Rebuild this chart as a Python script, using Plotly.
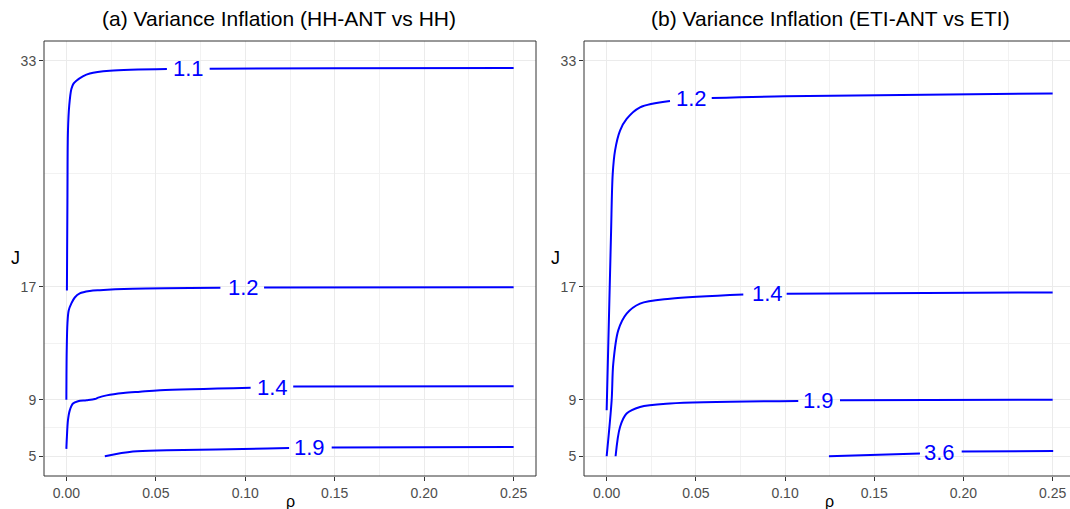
import plotly.graph_objects as go

# ---------------- data ----------------
# Panel (a): Variance Inflation (HH-ANT vs HH)
a_11_rho = [0.0003, 0.0006, 0.0009, 0.0016, 0.0028, 0.0040, 0.0056, 0.0092, 0.0131, 0.0243, 0.0562, None, 0.0801, 0.15, 0.25]
a_11_J   = [16.73, 23.1, 28.05, 29.82, 31.0, 31.38, 31.59, 31.9, 32.1, 32.29, 32.41, None, 32.43, 32.47, 32.49]

a_12_rho = [0.0, 0.0002, 0.0006, 0.0013, 0.0028, 0.0047, 0.0075, 0.0131, 0.0187, 0.0372, 0.0861, None, 0.1105, 0.25]
a_12_J   = [9.0, 12.5, 14.4, 15.32, 15.82, 16.24, 16.53, 16.7, 16.76, 16.86, 16.93, None, 16.94, 16.97]

a_14_rho = [0.0, 0.0003, 0.0009, 0.0019, 0.0037, 0.0065, 0.0112, 0.0159, 0.0178, 0.0225, 0.0318, 0.0412, 0.0524, 0.103, None, 0.1268, 0.25]
a_14_J   = [5.52, 6.37, 7.55, 8.25, 8.73, 8.89, 8.96, 9.05, 9.15, 9.31, 9.48, 9.57, 9.67, 9.85, None, 9.93, 9.95]

a_19_rho = [0.0215, 0.0372, 0.0562, 0.1124, 0.1245, None, 0.1483, 0.25]
a_19_J   = [5.0, 5.33, 5.42, 5.54, 5.58, None, 5.62, 5.65]

a_label_rho  = [0.0685, 0.099, 0.1153, 0.1357]
a_label_J    = [32.43, 16.95, 9.9, 5.61]
a_label_text = ["1.1", "1.2", "1.4", "1.9"]

# Panel (b): Variance Inflation (ETI-ANT vs ETI)
b_12_rho = [0.0, 0.0024, 0.0034, 0.0047, 0.0075, 0.0112, 0.0187, 0.0355, None, 0.0589, 0.10, 0.25]
b_12_J   = [8.25, 20.5, 24.99, 26.64, 28.05, 28.88, 29.7, 30.15, None, 30.36, 30.49, 30.69]

b_14_rho = [0.0, 0.0028, 0.0037, 0.0065, 0.0112, 0.0187, 0.0355, 0.0766, None, 0.1009, 0.25]
b_14_J   = [5.0, 8.96, 11.55, 13.91, 15.09, 15.8, 16.15, 16.45, None, 16.5, 16.6]

b_19_rho = [0.005, 0.0075, 0.0112, 0.0187, 0.0355, 0.1074, None, 0.1308, 0.25]
b_19_J   = [5.0, 7.07, 8.02, 8.49, 8.73, 8.91, None, 8.96, 9.0]

b_36_rho = [0.1246, 0.1756, None, 0.199, 0.2503]
b_36_J   = [5.0, 5.19, None, 5.33, 5.37]

b_label_rho  = [0.0476, 0.0899, 0.119, 0.1868]
b_label_J    = [30.3, 16.5, 8.95, 5.28]
b_label_text = ["1.2", "1.4", "1.9", "3.6"]

x_ticks = [0.0, 0.05, 0.10, 0.15, 0.20, 0.25]
x_tick_text = ["0.00", "0.05", "0.10", "0.15", "0.20", "0.25"]
x_minor = [0.025, 0.075, 0.125, 0.175, 0.225]
y_ticks = [5, 9, 17, 33]
y_minor = [7, 13, 25]

titles = ["(a) Variance Inflation (HH-ANT vs HH)", "(b) Variance Inflation (ETI-ANT vs ETI)"]

# ---------------- figure ----------------
W, H = 1070, 509
FONT = "Liberation Sans, Arial, sans-serif"
BLUE = "#0000FF"

a_dom = [44 / W, 536 / W]
b_dom = [584 / W, 1.0]
y_dom = [1 - 476 / H, 1 - 41 / H]

fig = go.Figure()

panel_a = [(a_11_rho, a_11_J), (a_12_rho, a_12_J), (a_14_rho, a_14_J), (a_19_rho, a_19_J)]
panel_b = [(b_12_rho, b_12_J), (b_14_rho, b_14_J), (b_19_rho, b_19_J), (b_36_rho, b_36_J)]

line_style = dict(color=BLUE, width=2, shape="spline", smoothing=0.9)
for xs, ys in panel_a:
    fig.add_trace(go.Scatter(x=xs, y=ys, mode="lines", line=line_style,
                             xaxis="x", yaxis="y", showlegend=False, hoverinfo="skip"))
for xs, ys in panel_b:
    fig.add_trace(go.Scatter(x=xs, y=ys, mode="lines", line=line_style,
                             xaxis="x2", yaxis="y2", showlegend=False, hoverinfo="skip"))

annotations = []
for r, j, t in zip(a_label_rho, a_label_J, a_label_text):
    annotations.append(dict(x=r, y=j, xref="x", yref="y", text=t, showarrow=False,
                            font=dict(family=FONT, size=22, color=BLUE)))
for r, j, t in zip(b_label_rho, b_label_J, b_label_text):
    annotations.append(dict(x=r, y=j, xref="x2", yref="y2", text=t, showarrow=False,
                            font=dict(family=FONT, size=22, color=BLUE)))

# titles
for xc, t in zip([279 / W, 830 / W], titles):
    annotations.append(dict(x=xc, y=1 - 18 / H, xref="paper", yref="paper",
                            text=t, showarrow=False, xanchor="center", yanchor="middle",
                            font=dict(family=FONT, size=21, color="black")))
# axis labels
for xc in [290 / W, 829 / W]:
    annotations.append(dict(x=xc, y=1 - 501 / H, xref="paper", yref="paper", text="ρ",
                            showarrow=False, xanchor="center", yanchor="middle",
                            font=dict(family=FONT, size=16, color="black")))
for xc in [15 / W, 555 / W]:
    annotations.append(dict(x=xc, y=1 - 258 / H, xref="paper", yref="paper", text="J",
                            showarrow=False, xanchor="center", yanchor="middle",
                            font=dict(family=FONT, size=18, color="black")))

xaxis_common = dict(
    tickmode="array", tickvals=x_ticks, ticktext=x_tick_text,
    showgrid=True, gridcolor="#EBEBEB", gridwidth=1,
    minor=dict(tickmode="array", tickvals=x_minor, showgrid=True, gridcolor="#F2F2F2", gridwidth=0.6),
    ticks="outside", ticklen=4, tickcolor="#333333", tickwidth=1,
    tickfont=dict(family=FONT, size=14, color="#4D4D4D"),
    zeroline=False, showline=False,
)
yaxis_common = dict(
    tickmode="array", tickvals=y_ticks, ticktext=[str(v) for v in y_ticks],
    range=[3.6, 34.4], domain=y_dom,
    showgrid=True, gridcolor="#EBEBEB", gridwidth=1,
    minor=dict(tickmode="array", tickvals=y_minor, showgrid=True, gridcolor="#F2F2F2", gridwidth=0.6),
    ticks="outside", ticklen=4, tickcolor="#333333", tickwidth=1,
    tickfont=dict(family=FONT, size=14, color="#4D4D4D"),
    zeroline=False, showline=False,
)

shapes = [
    dict(type="rect", xref="paper", yref="paper", x0=a_dom[0], x1=a_dom[1], y0=y_dom[0], y1=y_dom[1],
         line=dict(color="#333333", width=1), fillcolor="rgba(0,0,0,0)", layer="above"),
    dict(type="rect", xref="paper", yref="paper", x0=b_dom[0], x1=1.02, y0=y_dom[0], y1=y_dom[1],
         line=dict(color="#333333", width=1), fillcolor="rgba(0,0,0,0)", layer="above"),
]

fig.update_layout(
    width=W, height=H, margin=dict(l=0, r=0, t=0, b=0),
    paper_bgcolor="white", plot_bgcolor="white",
    xaxis=dict(domain=a_dom, range=[-0.0125, 0.2625], anchor="y", **xaxis_common),
    yaxis=dict(anchor="x", **yaxis_common),
    xaxis2=dict(domain=b_dom, range=[-0.0127, -0.0127 + 486 / 1784], anchor="y2", **xaxis_common),
    yaxis2=dict(anchor="x2", **yaxis_common),
    annotations=annotations, shapes=shapes,
)

fig.write_html("out.html")
